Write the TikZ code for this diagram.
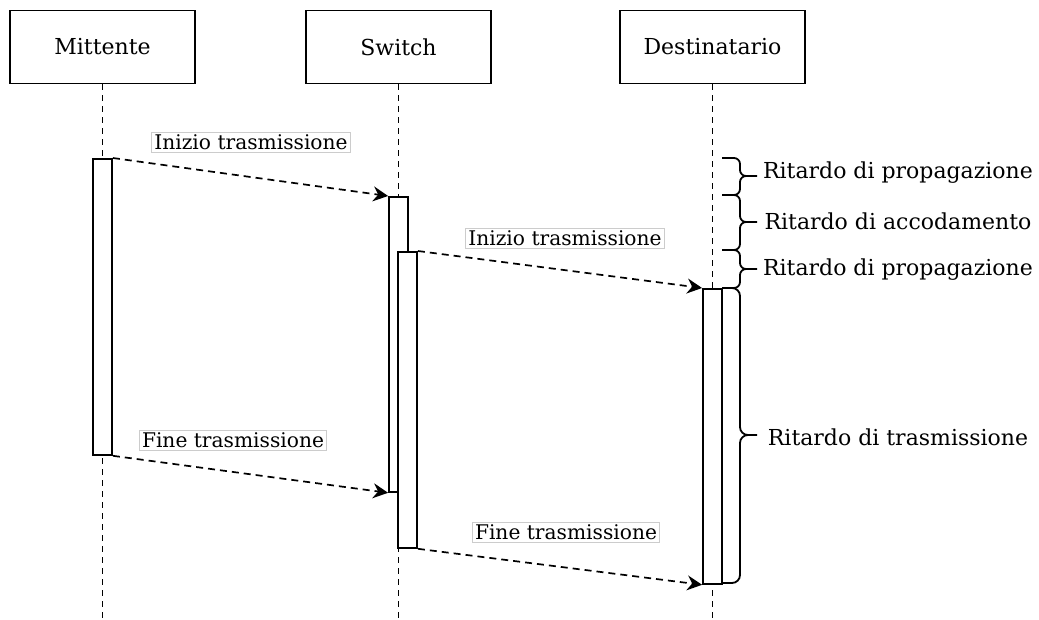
\documentclass[tikz,border=0pt]{standalone}
\usepackage{fontspec}
\setmainfont{DejaVu Serif}
\usetikzlibrary{arrows.meta}

\begin{document}
\begin{tikzpicture}[x=1pt,y=-1pt,
  actor/.style={draw,line width=1.8pt,minimum width=185pt,minimum height=73pt,font=\fontsize{22}{26}\selectfont},
  bar/.style={draw,fill=white,line width=1.8pt,minimum width=19pt,anchor=north,inner sep=0pt},
  life/.style={line width=1.6pt,dash pattern=on 6pt off 5pt},
  msg/.style={line width=1.7pt,dash pattern=on 7pt off 5pt,-{Stealth[length=15pt,width=15pt,inset=5pt]}},
  tag/.style={fill=white,draw=black!20,line width=0.8pt,inner sep=2.5pt,font=\fontsize{20.2}{24}\selectfont},
  delay/.style={font=\fontsize{22}{26}\selectfont},
  curly/.style={line width=1.8pt,rounded corners=6pt}]
  \useasboundingbox (0,0) rectangle (1039,619);
  \node[actor] (mit) at (102.5,47) {Mittente};
  \node[actor] (sw) at (398.5,47) {Switch};
  \node[actor] (dest) at (712.5,47) {Destinatario};
  \coordinate (mitend) at (102.5,619);
  \coordinate (swend) at (398.5,619);
  \coordinate (destend) at (712.5,619);
  \draw[life] (mit) -- (mitend);
  \draw[life] (sw) -- (swend);
  \draw[life] (dest) -- (destend);
  \node[bar,minimum height=296pt] (mitbar) at (102.5,158) {};
  \node[bar,minimum height=295pt] (swbar) at (398.5,196) {};
  \node[bar,minimum height=296pt] (swbar2) at (407.5,251) {};
  \node[bar,minimum height=295pt] (destbar) at (712.5,288) {};
  \draw[msg] (mitbar.north east) -- (swbar.north west);
  \draw[msg] (swbar2.north east) -- (destbar.north west);
  \draw[msg] (mitbar.south east) -- (swbar.south west);
  \draw[msg] (swbar2.south east) -- (destbar.south west);
  \node[tag] (start1) at (251,142) {Inizio trasmissione};
  \node[tag] (start2) at (565,238) {Inizio trasmissione};
  \node[tag] (end1) at (233,440) {Fine trasmissione};
  \node[tag] (end2) at (566,532) {Fine trasmissione};
  \draw[curly] (722,158) -- (740,158) -- (740,176) -- (757,176);
  \draw[curly] (722,195) -- (740,195) -- (740,176) -- (746,176);
  \draw[curly] (722,195) -- (740,195) -- (740,222) -- (757,222);
  \draw[curly] (722,250) -- (740,250) -- (740,222) -- (746,222);
  \draw[curly] (722,250) -- (740,250) -- (740,269) -- (757,269);
  \draw[curly] (722,288) -- (740,288) -- (740,269) -- (746,269);
  \draw[curly,rounded corners=8pt] (722,288) -- (740,288) -- (740,435) -- (757,435);
  \draw[curly,rounded corners=8pt] (722,583) -- (740,583) -- (740,435) -- (748,435);
  \node[delay] (prop1) at (898,173) {Ritardo di propagazione};
  \node[delay] (queue) at (898,221) {Ritardo di accodamento};
  \node[delay] (prop2) at (898,270) {Ritardo di propagazione};
  \node[delay] (trans) at (898,437) {Ritardo di trasmissione};
\end{tikzpicture}
\end{document}
